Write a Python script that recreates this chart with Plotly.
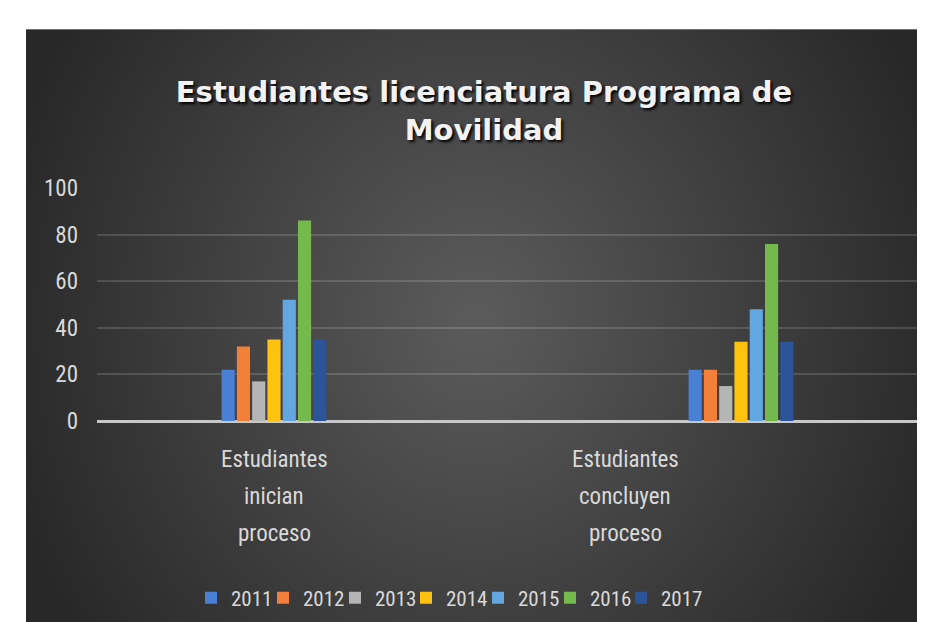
import zlib, struct, base64
import numpy as np
import plotly.graph_objects as go

# ---------------- data ----------------
categories = ["Estudiantes inician proceso", "Estudiantes concluyen proceso"]
years = ["2011", "2012", "2013", "2014", "2015", "2016", "2017"]
inician = [22, 32, 17, 35, 52, 86, 35]
concluyen = [22, 22, 15, 34, 48, 76, 34]
y_ticks = [0, 20, 40, 60, 80, 100]
title_text = "Estudiantes licenciatura Programa de<br>Movilidad"

colors = ["#4a7fd6", "#f2803a", "#b5b5b5", "#ffc20e", "#63a7e2", "#74b94b", "#2b5499"]

W, H = 925, 622
OFF = 8                      # page body margin of the browser
# plot area in page pixels
L, R = 97 - OFF, 920 - OFF
T, B = 188 - OFF, 421 - OFF
pw, ph = R - L, B - T

# ---------------- radial gradient background image ----------------
def png_uri(arr):
    h, w, _ = arr.shape
    raw = b"".join(b"\x00" + arr[i].tobytes() for i in range(h))
    def chunk(t, d):
        c = struct.pack(">I", len(d)) + t + d
        return c + struct.pack(">I", zlib.crc32(t + d) & 0xffffffff)
    png = (b"\x89PNG\r\n\x1a\n"
           + chunk(b"IHDR", struct.pack(">IIBBBBB", w, h, 8, 2, 0, 0, 0))
           + chunk(b"IDAT", zlib.compress(raw, 9))
           + chunk(b"IEND", b""))
    return "data:image/png;base64," + base64.b64encode(png).decode()

bx0, by0 = 26 - OFF, 29 - OFF
bw, bh = W - bx0, H - by0
yy, xx = np.mgrid[0:bh, 0:bw].astype(float)
cx, cy = 450, 291
t = np.sqrt(((xx - cx) / 490.0) ** 2 + ((yy - cy) / 540.0) ** 2)
t = np.clip(t, 0, 1)
edge, center = 0x28, 0x5c
val = edge + (center - edge) * (1 - t)
img = np.repeat(val[:, :, None], 3, axis=2).astype(np.uint8)
img[0, :, :] = 0x70
uri = png_uri(img)

def px2paper_x(px):
    return (px - L) / pw

def px2paper_y(py):
    return (B - py) / ph

# ---------------- figure ----------------
fnt = "Liberation Sans Narrow, Roboto Condensed, Arial Narrow, Liberation Sans, sans-serif"
label_color = "#d9d9d9"

legend_centers = [210, 282, 354, 425, 497, 569, 640]   # page px of legend swatches
legend_names = ["legend"] + ["legend%d" % (i + 1) for i in range(1, len(years))]

fig = go.Figure()
for i, yr in enumerate(years):
    fig.add_trace(go.Bar(
        x=categories, y=[inician[i], concluyen[i]], name=yr,
        marker=dict(color=colors[i], line=dict(width=0)),
        legend=legend_names[i],
    ))

annotations = []
label_shift = [0, -116]
line_centers = [459 - OFF, 496 - OFF, 533 - OFF]
for ci, cat in enumerate(categories):
    for li, word in enumerate(cat.split(" ")):
        annotations.append(dict(
            text=word, x=cat, xref="x", y=px2paper_y(line_centers[li]), yref="paper",
            xshift=label_shift[ci], xanchor="center", yanchor="middle", showarrow=False,
            font=dict(family=fnt, size=23, color=label_color),
        ))

a = (274 - 97) / 467.0
b = 1 + (920 - 741) / 467.0

legend_layout = {}
for i, ln in enumerate(legend_names):
    legend_layout[ln] = dict(
        orientation="h", xref="container", yref="container",
        x=(legend_centers[i] - OFF - 19) / W, xanchor="left",
        y=1 - (598 - OFF) / H, yanchor="middle",
        font=dict(family=fnt, size=21, color=label_color),
        bgcolor="rgba(0,0,0,0)", itemclick=False,
    )

fig.update_layout(
    width=W, height=H,
    margin=dict(l=L, r=W - R, t=T, b=H - B, pad=0),
    paper_bgcolor="#ffffff",
    plot_bgcolor="rgba(0,0,0,0)",
    barmode="group",
    bargap=0.771,
    bargroupgap=0.14,
    showlegend=True,
    title=dict(
        text="<b>" + title_text + "</b>",
        xref="container", yref="container",
        x=(484 - OFF) / W, xanchor="center",
        y=1 - (102 - OFF) / H, yanchor="middle",
        font=dict(family="DejaVu Sans, Liberation Sans, sans-serif", size=29,
                  color="#f2f2f2", shadow="2px 2px 3px #000000"),
    ),
    xaxis=dict(
        type="category", range=[-a, b], showticklabels=False, showgrid=False,
        zeroline=False, showline=False, ticks="", fixedrange=True,
    ),
    yaxis=dict(
        range=[0, 100], tickvals=y_ticks, ticktext=[str(v) for v in y_ticks],
        showgrid=True, gridcolor="rgba(255,255,255,0.15)", gridwidth=1.5,
        zeroline=True, zerolinecolor="#c8c8c8", zerolinewidth=2.5,
        showline=False, ticks="", ticklabelstandoff=18,
        tickfont=dict(family=fnt, size=23, color=label_color),
    ),
    annotations=annotations,
    images=[dict(
        source=uri, xref="paper", yref="paper",
        x=px2paper_x(bx0), y=px2paper_y(by0),
        sizex=bw / pw, sizey=bh / ph, xanchor="left", yanchor="top",
        sizing="stretch", layer="below",
    )],
    **legend_layout,
)

fig.write_html("out.html", config={"displayModeBar": False})
